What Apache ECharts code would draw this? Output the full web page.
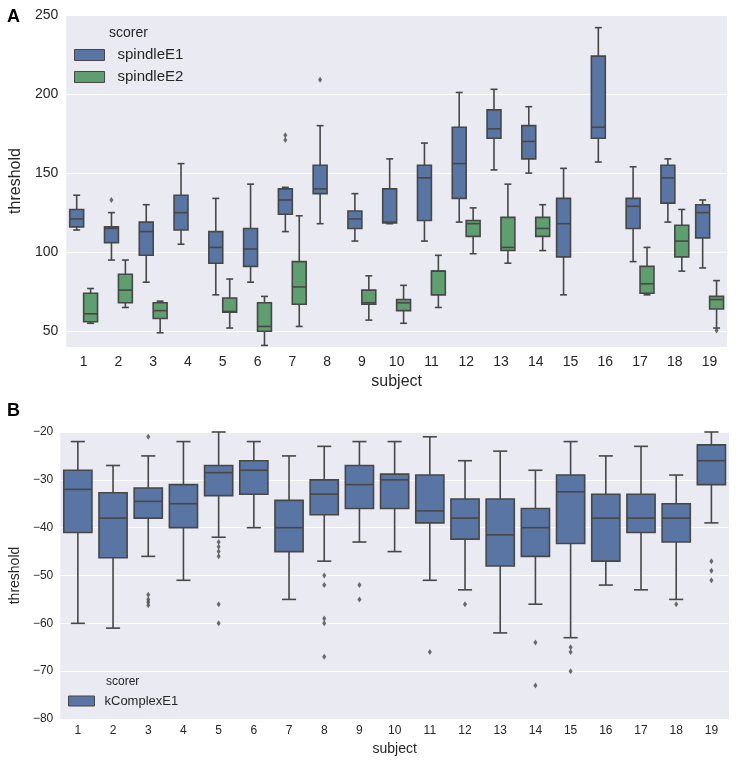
<!DOCTYPE html>
<html><head><meta charset="utf-8">
<script src="https://cdn.jsdelivr.net/npm/echarts@6/dist/echarts.min.js"></script>
<style>html,body{margin:0;padding:0;background:#fff}#c{width:738px;height:762px}</style>
</head><body><div id="c"></div>
<script>
// ---------- DATA ----------
const subjects = ['1','2','3','4','5','6','7','8','9','10','11','12','13','14','15','16','17','18','19'];
// each entry: [low whisker, Q1, median, Q3, high whisker]
const spindleE1 = [
  [114,116,121,127,136],[95,106,115,116,125],[81,98,113,119,130],[105,114,125,136,156],
  [73,93,103,113,134],[81,91,102,115,143],[113,124,133,140,141],[118,137,140,155,180],
  [107,115,121,126,137],[118,118.4,119,140,159],[107,120,147,155,169],[119,134,156,179,201],
  [152,172,178,190,203],[150,159,170,180,192],[73,97,118,134,153],[157,172,179,224,242],
  [94,115,129,134,154],[119,131,147,155,159],[90,109,125,130,133]
];
const spindleE2 = [
  [55,56,61,74,77],[65,68,76,86,95],[49,58,63,68,69],null,
  [52,62,62.5,71,83],[41,50,53,68,72],[53,67,78,94,123],null,
  [57,67,68,76,85],[55,63,68,70,79],[65,73,88,88,98],[99,110,118,120,128],
  [93,101,103,122,143],[101,110,115,122,130],null,null,
  [73,74,80,91,103],[88,97,107,117,127],[52,64,70,72,82]
];
// outliers: [subject index, value]
const spindleE1Outliers = [[1,133],[6,174],[6,171],[7,209]];
const spindleE2Outliers = [[18,50.4]];
const kComplexE1 = [
  [-60,-41,-32,-28,-22],[-61,-46.3,-38,-32.7,-27],[-46,-38,-34.5,-31.7,-25],[-51,-40,-35,-31,-22],
  [-42,-33.3,-28.5,-27,-20],[-40,-33,-28,-26,-22],[-55,-45,-40,-34.3,-25],[-47,-37.3,-33,-30,-23],
  [-43,-36,-31,-27,-22],[-45,-36,-30,-28.8,-22],[-51,-39,-36.5,-29,-21],[-53,-42.4,-38,-34,-26],
  [-62,-48,-41.5,-34,-24],[-56,-46,-40,-36,-28],[-63,-43.3,-32.5,-29,-22],[-52,-47,-38,-33,-25],
  [-53,-41,-38,-33,-23],[-55,-43,-38,-35,-29],[-39,-31,-26,-22.7,-20]
];
const kComplexE1Outliers = [
  [2,-21],[2,-54],[2,-55],[2,-55.6],[2,-56.2],
  [4,-43],[4,-44],[4,-45],[4,-46],[4,-56],[4,-60],
  [7,-50],[7,-52],[7,-59],[7,-60],[7,-67],
  [8,-52],[8,-55],
  [10,-66],[11,-56],[13,-64],[13,-73],
  [14,-65],[14,-66],[14,-70],
  [17,-56],[18,-47],[18,-49],[18,-51]
];
const yTicksA = [50,100,150,200,250];

// ---------- STYLE ----------
const BLUE = '#5975A4', GREEN = '#5F9E6E', EDGE = '#474747', BG = '#EAEAF2', TXT = '#262626';
const LW = 1.6;

function boxRenderer(offsetFrac, widthFrac, fill) {
  return function (params, api) {
    const idx = api.value(0);
    const band = api.size([1, 0])[0];
    const cx = api.coord([idx, api.value(3)])[0] + offsetFrac * band;
    const w = widthFrac * band;
    const cap = w / 2;
    const py = k => api.coord([idx, api.value(k)])[1];
    const lo = py(1), q1 = py(2), md = py(3), q3 = py(4), hi = py(5);
    const ls = { stroke: EDGE, lineWidth: LW };
    return { type: 'group', children: [
      { type: 'line', shape: { x1: cx, y1: q1, x2: cx, y2: lo }, style: ls },
      { type: 'line', shape: { x1: cx, y1: q3, x2: cx, y2: hi }, style: ls },
      { type: 'line', shape: { x1: cx - cap / 2, y1: lo, x2: cx + cap / 2, y2: lo }, style: ls },
      { type: 'line', shape: { x1: cx - cap / 2, y1: hi, x2: cx + cap / 2, y2: hi }, style: ls },
      { type: 'rect', shape: { x: cx - w / 2, y: q3, width: w, height: q1 - q3 }, style: { fill: fill, stroke: EDGE, lineWidth: LW } },
      { type: 'line', shape: { x1: cx - w / 2, y1: md, x2: cx + w / 2, y2: md }, style: ls }
    ]};
  };
}
const toData = arr => arr.map((v, i) => v ? [i].concat(v) : null).filter(Boolean);

const chart = echarts.init(document.getElementById('c'), null, { renderer: 'canvas' });
chart.setOption({
  animation: false,
  backgroundColor: '#fff',
  textStyle: { fontFamily: 'Liberation Sans, Arial, sans-serif' },
  grid: [
    { left: 61, right: 11, top: 15, bottom: 415, show: true, backgroundColor: BG, borderWidth: 0 },
    { left: 57, right: 9, top: 432, bottom: 43, show: true, backgroundColor: BG, borderWidth: 0 }
  ],
  xAxis: [
    { type: 'category', gridIndex: 0, data: subjects, name: 'subject', nameLocation: 'middle', nameGap: 27,
      nameTextStyle: { fontSize: 16, color: TXT },
      axisLine: { show: false }, axisTick: { show: false },
      axisLabel: { fontSize: 14, color: TXT, margin: 8 }, splitLine: { show: false } },
    { type: 'category', gridIndex: 1, data: subjects, name: 'subject', nameLocation: 'middle', nameGap: 23,
      nameTextStyle: { fontSize: 14, color: TXT },
      axisLine: { show: false }, axisTick: { show: false },
      axisLabel: { fontSize: 12, color: TXT, margin: 6 }, splitLine: { show: false } }
  ],
  yAxis: [
    { type: 'value', gridIndex: 0, min: 40, max: 250, splitNumber: 5, name: 'threshold', nameLocation: 'middle', nameGap: 37,
      nameTextStyle: { fontSize: 16, color: TXT },
      axisLine: { show: false }, axisTick: { show: false },
      axisLabel: { fontSize: 14, color: TXT, margin: 8, formatter: v => yTicksA.indexOf(v) >= 0 ? String(v) : '' },
      splitLine: { lineStyle: { color: '#fff', width: 1.2 } } },
    { type: 'value', gridIndex: 1, min: -80, max: -20, interval: 10, name: 'threshold', nameLocation: 'middle', nameGap: 33,
      nameTextStyle: { fontSize: 14, color: TXT },
      axisLine: { show: false }, axisTick: { show: false },
      axisLabel: { fontSize: 12, color: TXT, margin: 7, formatter: v => String(v).replace('-', '\u2212') },
      splitLine: { lineStyle: { color: '#fff', width: 1.2 } } }
  ],
  legend: [
    { left: 74, top: 47, orient: 'vertical', icon: 'rect', itemWidth: 30, itemHeight: 11, itemGap: 6, padding: 0,
      textStyle: { fontSize: 15, color: TXT, lineHeight: 16, padding: [0, 0, 0, 8] },
      data: [
        { name: 'spindleE1', itemStyle: { color: BLUE, borderColor: EDGE, borderWidth: 1 } },
        { name: 'spindleE2', itemStyle: { color: GREEN, borderColor: EDGE, borderWidth: 1 } }
      ] },
    { left: 68, top: 694, orient: 'vertical', icon: 'rect', itemWidth: 26, itemHeight: 10, padding: 0,
      textStyle: { fontSize: 13, color: TXT, lineHeight: 14, padding: [0, 0, 0, 5] },
      data: [ { name: 'kComplexE1', itemStyle: { color: BLUE, borderColor: EDGE, borderWidth: 1 } } ] }
  ],
  graphic: [
    { type: 'text', left: 7, top: 8, style: { text: 'A', fontSize: 18, fontWeight: 'bold', fill: '#000', fontFamily: 'Liberation Sans, Arial, sans-serif' } },
    { type: 'text', left: 7, top: 402, style: { text: 'B', fontSize: 18, fontWeight: 'bold', fill: '#000', fontFamily: 'Liberation Sans, Arial, sans-serif' } },
    { type: 'text', left: 109, top: 26, style: { text: 'scorer', fontSize: 14, fill: TXT, fontFamily: 'Liberation Sans, Arial, sans-serif' } },
    { type: 'text', left: 106, top: 676, style: { text: 'scorer', fontSize: 12, fill: TXT, fontFamily: 'Liberation Sans, Arial, sans-serif' } }
  ],
  series: [
    { name: 'spindleE1', type: 'custom', xAxisIndex: 0, yAxisIndex: 0, itemStyle: { color: BLUE },
      renderItem: boxRenderer(-0.2, 0.4, BLUE), encode: { x: 0, y: [1, 2, 3, 4, 5] }, data: toData(spindleE1) },
    { name: 'spindleE2', type: 'custom', xAxisIndex: 0, yAxisIndex: 0, itemStyle: { color: GREEN },
      renderItem: boxRenderer(0.2, 0.4, GREEN), encode: { x: 0, y: [1, 2, 3, 4, 5] }, data: toData(spindleE2) },
    { name: 'spindleE1', type: 'scatter', xAxisIndex: 0, yAxisIndex: 0, symbol: 'diamond', symbolSize: [4, 6],
      symbolOffset: [-7, 0], itemStyle: { color: EDGE }, data: spindleE1Outliers },
    { name: 'spindleE2', type: 'scatter', xAxisIndex: 0, yAxisIndex: 0, symbol: 'diamond', symbolSize: [4, 6],
      symbolOffset: [7, 0], itemStyle: { color: EDGE }, data: spindleE2Outliers },
    { name: 'kComplexE1', type: 'custom', xAxisIndex: 1, yAxisIndex: 1, itemStyle: { color: BLUE },
      renderItem: boxRenderer(0, 0.8, BLUE), encode: { x: 0, y: [1, 2, 3, 4, 5] }, data: toData(kComplexE1) },
    { name: 'kComplexE1', type: 'scatter', xAxisIndex: 1, yAxisIndex: 1, symbol: 'diamond', symbolSize: [4, 6],
      itemStyle: { color: EDGE }, data: kComplexE1Outliers }
  ]
});
</script>
</body></html>
